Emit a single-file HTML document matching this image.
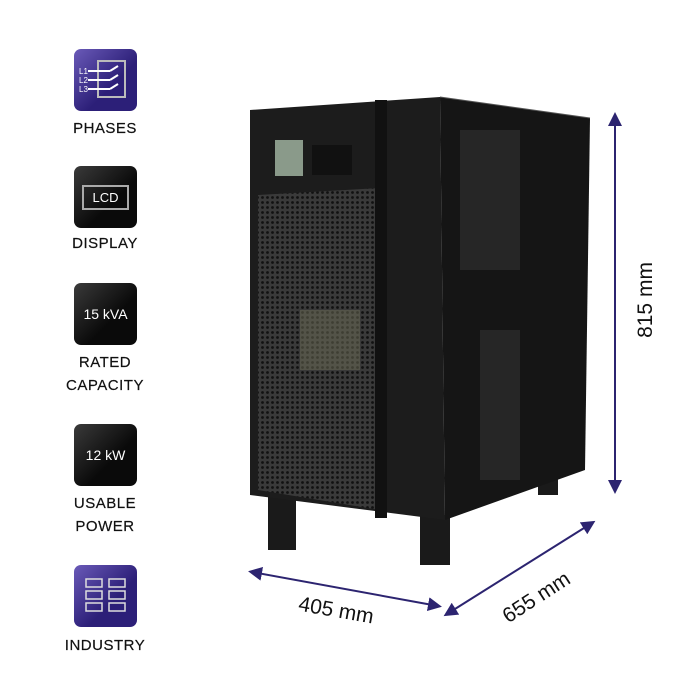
<!DOCTYPE html>
<html><head><style>
body{margin:0;width:700px;height:700px;background:#fff;position:relative;overflow:hidden;font-family:"Liberation Sans",sans-serif}
.ic{position:absolute;left:74px;width:63px;height:62px;border-radius:7px;color:#fff;font-size:14px;display:flex;align-items:center;justify-content:center}
.blk{background:linear-gradient(135deg,#3a3a3a,#0a0a0a 60%)}
.pur{background:linear-gradient(135deg,#6a5ab8,#2c1f78 60%)}
.lb{position:absolute;left:40px;width:130px;text-align:center;font-size:15px;color:#111;letter-spacing:0.5px;line-height:23px;-webkit-text-stroke:0.2px #111}
</style></head><body>
<div class="ic pur" style="top:49px"><svg width="63" height="62"><rect x="24" y="12" width="27" height="36" fill="none" stroke="#bbb" stroke-width="2"/><g stroke="#fff" stroke-width="2"><line x1="14" y1="22" x2="36" y2="22"/><line x1="14" y1="31" x2="36" y2="31"/><line x1="14" y1="40" x2="36" y2="40"/><line x1="36" y1="22" x2="44" y2="17"/><line x1="36" y1="31" x2="44" y2="26"/><line x1="36" y1="40" x2="44" y2="35"/></g><text x="5" y="25" fill="#fff" font-size="8">L1</text><text x="5" y="34" fill="#fff" font-size="8">L2</text><text x="5" y="43" fill="#fff" font-size="8">L3</text></svg></div>
<div class="lb" style="top:117px">PHASES</div>
<div class="ic blk" style="top:166px"><span style="border:2px solid #aaa;padding:3px 8px;font-size:13px">LCD</span></div>
<div class="lb" style="top:232px">DISPLAY</div>
<div class="ic blk" style="top:283px">15 kVA</div>
<div class="lb" style="top:351px">RATED<br>CAPACITY</div>
<div class="ic blk" style="top:424px">12 kW</div>
<div class="lb" style="top:492px">USABLE<br>POWER</div>
<div class="ic pur" style="top:565px"><svg width="63" height="62"><g fill="none" stroke="#ddd" stroke-width="1.5"><rect x="12" y="14" width="16" height="8"/><rect x="12" y="26" width="16" height="8"/><rect x="12" y="38" width="16" height="8"/><rect x="35" y="14" width="16" height="8"/><rect x="35" y="26" width="16" height="8"/><rect x="35" y="38" width="16" height="8"/></g></svg></div>
<div class="lb" style="top:634px">INDUSTRY</div>

<svg style="position:absolute;left:0;top:0" width="700" height="700">
<defs><marker id="a" markerWidth="7" markerHeight="7" refX="5" refY="3.5" orient="auto-start-reverse"><path d="M0,0L7,3.5L0,7z" fill="#2c2470"/></marker>
<pattern id="m" width="5" height="5" patternUnits="userSpaceOnUse"><rect width="5" height="5" fill="#3a3a3a"/><circle cx="2.5" cy="2.5" r="1.4" fill="#111"/></pattern></defs>
<rect x="268" y="495" width="28" height="55" fill="#1a1a1a"/>
<rect x="420" y="515" width="30" height="50" fill="#1a1a1a"/>
<rect x="538" y="455" width="20" height="40" fill="#1a1a1a"/>
<polygon points="440,97 590,118 585,470 445,520" fill="#151515"/>
<line x1="440" y1="97" x2="590" y2="118" stroke="#555" stroke-width="1"/>
<rect x="460" y="130" width="60" height="140" fill="#262626"/>
<rect x="480" y="330" width="40" height="150" fill="#262626"/>
<polygon points="250,110 440,97 445,520 250,495" fill="#1c1c1c"/>
<polygon points="258,195 380,188 380,510 258,490" fill="url(#m)"/>
<rect x="300" y="310" width="60" height="60" fill="#6b6b55" opacity="0.5"/>
<rect x="275" y="140" width="28" height="36" fill="#8a9a8a"/>
<rect x="312" y="145" width="40" height="30" fill="#111"/>
<rect x="375" y="100" width="12" height="418" fill="#111"/>
<g stroke="#2c2470" stroke-width="2" fill="none">
<line x1="615" y1="116" x2="615" y2="490" marker-start="url(#a)" marker-end="url(#a)"/>
<line x1="252" y1="572" x2="438" y2="606" marker-start="url(#a)" marker-end="url(#a)"/>
<line x1="447" y1="614" x2="592" y2="523" marker-start="url(#a)" marker-end="url(#a)"/>
</g>
<g font-size="21" fill="#111" font-family="Liberation Sans">
<text transform="translate(652,300) rotate(-90)" text-anchor="middle">815 mm</text>
<text transform="translate(335,617) rotate(10)" text-anchor="middle">405 mm</text>
<text transform="translate(540,603) rotate(-33)" text-anchor="middle">655 mm</text>
</g>
</svg>
</body></html>
